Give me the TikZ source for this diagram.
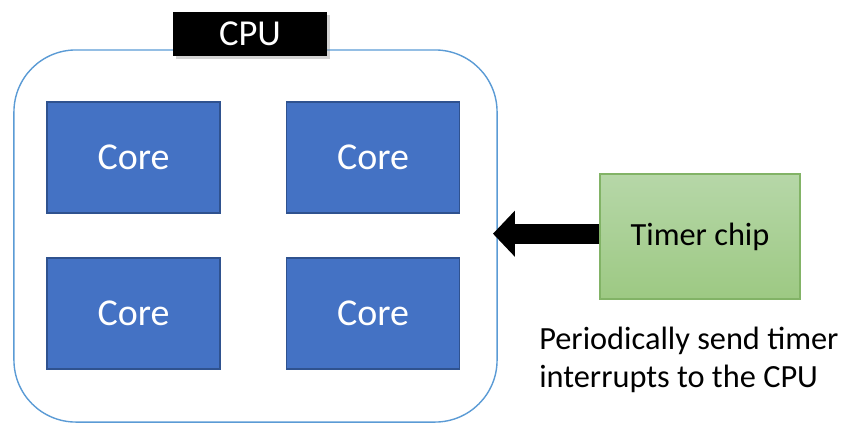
\documentclass[tikz,border=0pt]{standalone}
\usepackage{fontspec}
\setmainfont{Carlito}
\usetikzlibrary{shapes,shadows,arrows.meta,positioning}

\definecolor{coreblue}{HTML}{4472C4}
\definecolor{coreedge}{HTML}{2F528F}
\definecolor{cpuedge}{HTML}{5B9BD5}
\definecolor{chiptop}{HTML}{B6D7A8}
\definecolor{chipbot}{HTML}{9DC983}
\definecolor{chipedge}{HTML}{82B366}

\begin{document}
\begin{tikzpicture}[x=0.025cm,y=-0.025cm]
\tikzset{
cpubox/.style={rectangle,rounded corners=1.55cm,draw=cpuedge,line width=1pt,
minimum width=12.075cm, minimum height=9.3cm},
cpulabel/.style={rectangle,fill=black,text=white,font=\fontsize{26}{30}\selectfont,
minimum width=3.85cm,minimum height=1.1cm,inner sep=0pt,
drop shadow={shadow xshift=2pt,shadow yshift=-2pt,opacity=0.35}},
core/.style={rectangle,fill=coreblue,draw=coreedge,line width=0.8pt,text=white,
font=\fontsize{27}{31}\selectfont,minimum width=4.325cm,minimum height=2.775cm},
chip/.style={rectangle,draw=chipedge,line width=0.8pt,top color=chiptop,bottom color=chipbot,
font=\fontsize{23}{27}\selectfont,minimum width=5cm,minimum height=3.125cm},
mylabel/.style={align=left,font=\fontsize{23}{27}\selectfont,inner sep=0pt},
bigarrow/.style={-{Triangle[width=1.125cm,length=0.55cm]},line width=0.5cm,black,
shorten >=-0.12cm,
drop shadow={shadow xshift=1.5pt,shadow yshift=-1.5pt,opacity=0.3}},
}
\useasboundingbox (0,0) rectangle (841,422);

\node [cpubox] (cpu) at (255.5,236) {};
\node [cpulabel] (cpuname) at (250,34) {CPU};
\node [core] (core1) at (133.5,157.5) {Core};
\node [core] (core2) at (373,157.5) {Core};
\node [core] (core3) at (133.5,313.5) {Core};
\node [core] (core4) at (373,313.5) {Core};
\node [chip] (timer) at (700,236.5) {Timer chip};
\node [mylabel, anchor=north west] (note) at (539,327) {Periodically send timer\\interrupts to the CPU};
\draw[bigarrow] ([yshift=0.07cm]timer.west) -- ([yshift=0.07cm]timer.west -| cpu.east);
\end{tikzpicture}
\end{document}
